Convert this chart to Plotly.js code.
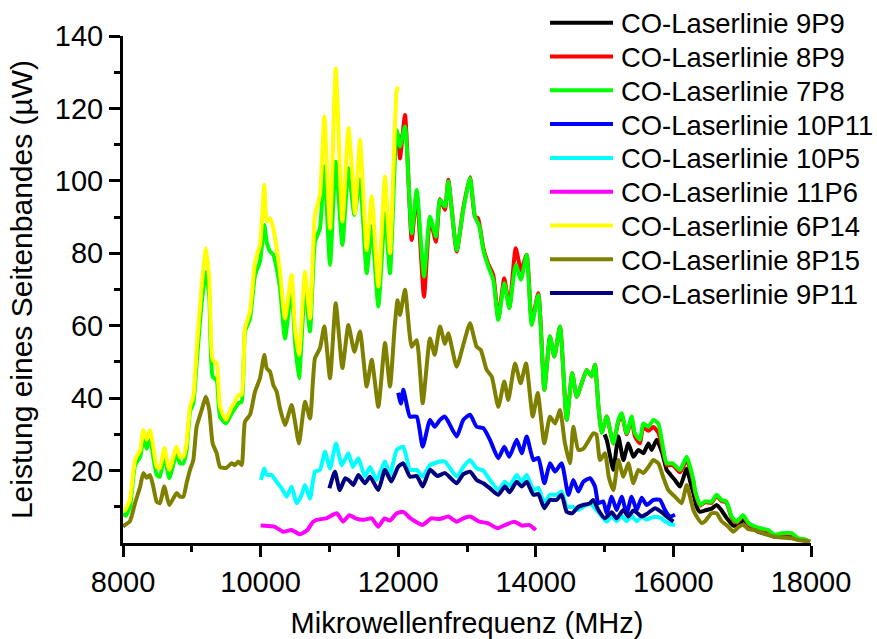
<!DOCTYPE html>
<html>
<head>
<meta charset="utf-8">
<script src="https://cdn.plot.ly/plotly-3.0.1.min.js"></script>
<style>
  html, body { margin: 0; padding: 0; background: #ffffff; }
  #chart { width: 877px; height: 639px; }
</style>
</head>
<body>
<div id="chart"></div>
<script>
// Sideband power vs. microwave frequency for several CO laser lines

// CO-Laserlinie 9P9 (black)
const f9P9 = [15000, 15031, 15080, 15127, 15200, 15273, 15345, 15418, 15490, 15564, 15636, 15685, 15756, 15838, 15902, 15960, 16023, 16096, 16193, 16250, 16290, 16338, 16387, 16460, 16555, 16628, 16701, 16770, 16870, 16950, 17015, 17090, 17185, 17280, 17379, 17475, 17570, 17719, 17815, 17912, 17985];
const p9P9 = [30, 28.5, 24, 20.2, 29.4, 22.9, 27.5, 23.8, 25.7, 24.8, 27.5, 25.7, 28.5, 24.8, 20.2, 18.8, 17.4, 15.6, 20.5, 16.5, 13.8, 10, 8.6, 9, 9.5, 10.5, 9, 7, 4.8, 5, 6.4, 5, 3.6, 2.8, 2.4, 1.7, 1.7, 1.5, 1, 0.7, 0.3];

// CO-Laserlinie 8P9 (red)
const f8P9 = [12000, 12026, 12099, 12196, 12269, 12375, 12462, 12549, 12607, 12680, 12728, 12850, 12946, 13044, 13116, 13160, 13237, 13310, 13382, 13455, 13542, 13615, 13708, 13785, 13868, 13941, 14037, 14124, 14206, 14269, 14352, 14449, 14530, 14594, 14667, 14740, 14812, 14860, 14909, 14958, 15031, 15078, 15127, 15200, 15248, 15320, 15393, 15440, 15515, 15560, 15636, 15709, 15781, 15830, 15902, 15990, 16096, 16193, 16290, 16314, 16387, 16460, 16555, 16628, 16701, 16770, 16846, 16920, 17015, 17090, 17185, 17280, 17379, 17475, 17570, 17719, 17815, 17912, 17985];
const p8P9 = [113, 106.2, 118.2, 83.7, 96.5, 68, 89.5, 83.2, 95, 92, 100.3, 80.5, 92.5, 101, 90.1, 89.7, 81.5, 77, 74, 62, 73.1, 65, 81.4, 75.4, 79.6, 61, 69, 42.3, 57, 51.5, 59.8, 34, 46.9, 40.4, 44.1, 47.8, 46, 49.2, 38, 30.5, 34.9, 31.2, 27.5, 33.5, 35.5, 30, 34, 29.5, 27.5, 32, 31, 32, 30.5, 27, 21.5, 21.5, 19.5, 23, 17, 14, 10.3, 11.3, 11.1, 13, 11.6, 11.2, 7, 5.6, 7.4, 5.2, 4.2, 3.7, 3.3, 2, 2.5, 2.5, 1.1, 0.8, 0.3];

// CO-Laserlinie 7P8 (green)
const f7P8 = [8000, 8040, 8100, 8175, 8250, 8295, 8345, 8392, 8440, 8490, 8537, 8600, 8673, 8780, 8828, 8877, 8925, 8974, 9022, 9070, 9143, 9206, 9254, 9303, 9361, 9410, 9497, 9580, 9628, 9676, 9725, 9773, 9846, 9919, 9991, 10054, 10088, 10137, 10185, 10233, 10282, 10355, 10451, 10500, 10558, 10645, 10718, 10790, 10863, 10926, 11009, 11092, 11189, 11276, 11363, 11445, 11542, 11615, 11711, 11808, 11881, 11978, 12026, 12099, 12196, 12269, 12375, 12462, 12549, 12607, 12680, 12728, 12850, 12946, 13044, 13116, 13180, 13237, 13310, 13382, 13455, 13542, 13615, 13708, 13785, 13868, 13941, 14037, 14124, 14206, 14269, 14352, 14449, 14530, 14594, 14667, 14740, 14812, 14860, 14909, 14958, 15031, 15078, 15127, 15200, 15248, 15320, 15393, 15440, 15515, 15560, 15636, 15709, 15781, 15830, 15902, 15990, 16096, 16193, 16290, 16314, 16387, 16460, 16555, 16628, 16701, 16770, 16846, 16920, 17015, 17090, 17185, 17280, 17379, 17475, 17570, 17719, 17815, 17912, 17985];
const p7P8 = [8.2, 7.5, 10, 21.5, 23.8, 29, 26, 29.4, 23.8, 18.8, 18.3, 24.3, 17.9, 24.8, 22, 22, 25.7, 36.3, 38.6, 49.6, 66.2, 74.9, 68, 45.9, 45, 34.9, 33, 35.8, 37.2, 38.6, 39, 58.4, 62, 74, 77.7, 87.8, 83.2, 80.5, 79.6, 75.9, 70.4, 56.5, 70.4, 55.6, 45.5, 70.4, 58.4, 83.2, 86.9, 104, 76.8, 105.3, 82.3, 103.5, 90.6, 100.3, 74.5, 87.4, 65.3, 91, 74.5, 114, 109.5, 115, 85.5, 97.5, 73.6, 90.1, 84.6, 94.8, 92.9, 99.8, 80.9, 92, 100.7, 90.1, 87.4, 80.9, 76.3, 72.7, 61.6, 71.7, 64.8, 76.8, 72.7, 79.6, 60.2, 68.5, 42.3, 57, 51.5, 59.8, 34, 46.9, 40.4, 44.1, 47.8, 46, 49.2, 38, 30.5, 34.9, 31.2, 27.5, 34, 35.8, 30.3, 34.9, 30.3, 28.5, 33, 32.1, 34, 33, 28.5, 22, 22, 20.2, 23.8, 17.4, 14.6, 10.5, 11.5, 11.4, 13.3, 11.9, 11.5, 7.3, 5.9, 7.7, 5.5, 4.5, 4, 3.6, 2.2, 2.7, 2.7, 1.3, 1, 0.4];

// CO-Laserlinie 10P11 (blue)
const f10P11 = [12000, 12040, 12074, 12110, 12171, 12269, 12356, 12462, 12530, 12607, 12680, 12728, 12850, 12946, 13044, 13140, 13237, 13334, 13455, 13542, 13615, 13722, 13795, 13868, 13965, 14037, 14124, 14206, 14280, 14376, 14473, 14545, 14618, 14690, 14788, 14860, 14909, 14980, 15031, 15103, 15175, 15248, 15320, 15393, 15466, 15539, 15612, 15709, 15805, 15878, 15951, 16023];
const p10P11 = [41.5, 38.5, 42.3, 39.5, 34.9, 34.9, 26.6, 34, 32.1, 34, 34.9, 33.5, 29.4, 34, 35.4, 32.1, 31.7, 28.5, 23.4, 26.6, 23.8, 28.5, 24.8, 29.4, 22.9, 23.5, 16.5, 22, 19.7, 22, 13.3, 17.4, 14.2, 16.9, 17.9, 15.6, 11, 11.5, 8.2, 12.8, 9.1, 12.8, 8.2, 12.8, 9.1, 12.5, 10.5, 11.9, 11.9, 9.1, 7.3, 7.8];

// CO-Laserlinie 10P5 (cyan)
const f10P5 = [10006, 10054, 10088, 10160, 10233, 10306, 10379, 10451, 10524, 10597, 10645, 10718, 10790, 10863, 10936, 11009, 11096, 11180, 11276, 11340, 11421, 11517, 11590, 11687, 11808, 11881, 11978, 12074, 12171, 12269, 12356, 12462, 12607, 12680, 12850, 12946, 13044, 13140, 13237, 13334, 13455, 13550, 13620, 13722, 13795, 13868, 13965, 14037, 14124, 14206, 14300, 14376, 14449, 14530, 14618, 14690, 14788, 14909, 15031, 15103, 15175, 15248, 15320, 15393, 15466, 15539, 15612, 15709, 15805, 15878, 15951, 16023];
const p10P5 = [17.4, 20.6, 18.8, 18.8, 16.9, 15.1, 12.8, 15.6, 11, 13.3, 16, 12.3, 19.7, 20.2, 25.2, 20.6, 27.5, 21.5, 24.8, 21, 23.4, 18.3, 21, 17.4, 22.5, 18.8, 25.7, 26.6, 20.2, 20.2, 18.3, 21.5, 22.5, 22.5, 18.3, 21, 22.9, 20.6, 20, 17.4, 14.6, 16.9, 15.8, 18.8, 16.9, 18.8, 14.6, 15.2, 11, 13.3, 13.3, 14.2, 10, 10, 9.1, 10, 10.8, 8.5, 5.9, 7.5, 6, 7.5, 6, 7.5, 6, 7.2, 6.5, 7.2, 7, 6, 5.2, 5];

// CO-Laserlinie 11P6 (magenta)
const f11P6 = [10000, 10100, 10200, 10330, 10450, 10570, 10680, 10760, 10815, 10950, 11107, 11200, 11290, 11380, 11500, 11615, 11711, 11800, 11880, 11978, 12074, 12180, 12356, 12480, 12600, 12728, 12850, 12946, 13044, 13180, 13300, 13440, 13560, 13690, 13800, 13900, 14000];
const p11P6 = [4.8, 4.7, 4.5, 3.1, 3.6, 2.4, 3.6, 5.8, 6.4, 6.8, 8.2, 5.9, 7.7, 6.8, 6.4, 6.8, 4.5, 6.8, 6.2, 8.2, 8.6, 6.8, 5, 6.8, 6.6, 7.3, 5.9, 6.8, 7.3, 5.9, 5.5, 4.1, 5, 5.9, 4.8, 5, 3.6];

// CO-Laserlinie 6P14 (yellow)
const f6P14 = [8000, 8030, 8100, 8175, 8250, 8295, 8345, 8392, 8440, 8490, 8537, 8600, 8673, 8780, 8828, 8877, 8925, 8974, 9022, 9070, 9143, 9206, 9254, 9303, 9361, 9410, 9497, 9580, 9628, 9676, 9725, 9773, 9846, 9919, 9991, 10054, 10088, 10137, 10185, 10233, 10282, 10355, 10451, 10500, 10558, 10645, 10718, 10790, 10863, 10926, 11009, 11092, 11189, 11276, 11340, 11372, 11445, 11542, 11615, 11711, 11808, 11881, 11978, 12000];
const p6P14 = [9.1, 9.1, 11.9, 22.9, 25.7, 31.2, 28.5, 31.2, 26.6, 21, 20.7, 26.2, 20.2, 26.6, 23.8, 23.8, 27.5, 37.6, 40.4, 53.3, 70.8, 81.4, 72.7, 50.6, 49.6, 37.6, 34, 37.6, 39, 40.9, 40.9, 59.3, 63.9, 77.7, 82.3, 98.9, 88.8, 89.7, 86.9, 81.4, 74.9, 62, 74, 59.3, 51.9, 74.9, 62, 90.6, 96.1, 117.8, 86.9, 131, 88.8, 114.6, 100, 91, 111.3, 80.9, 95.7, 70.8, 101.2, 80, 125, 126];

// CO-Laserlinie 8P15 (olive)
const f8P15 = [8000, 8030, 8100, 8175, 8250, 8295, 8345, 8392, 8440, 8490, 8537, 8600, 8673, 8780, 8828, 8877, 8925, 8974, 9022, 9070, 9143, 9206, 9254, 9303, 9361, 9410, 9497, 9580, 9628, 9676, 9725, 9773, 9846, 9919, 9991, 10054, 10088, 10137, 10185, 10233, 10282, 10355, 10451, 10500, 10558, 10645, 10718, 10790, 10863, 10926, 11009, 11092, 11189, 11276, 11363, 11445, 11542, 11615, 11711, 11808, 11881, 11950, 11990, 12026, 12099, 12196, 12269, 12356, 12462, 12530, 12607, 12680, 12728, 12850, 12950, 13044, 13140, 13200, 13286, 13360, 13455, 13542, 13600, 13698, 13780, 13858, 13956, 14028, 14124, 14206, 14280, 14352, 14424, 14497, 14545, 14618, 14690, 14760, 14836, 14880, 14933, 15006, 15060, 15127, 15200, 15273, 15345, 15418, 15490, 15564, 15636, 15709, 15781, 15850, 15926, 16023, 16120, 16193, 16290, 16338, 16410, 16460, 16555, 16628, 16701, 16798, 16870, 16950, 17015, 17090, 17185, 17280, 17379, 17475, 17570, 17719, 17815, 17912, 17985];
const p8P15 = [4.5, 5, 6, 11, 15.6, 19.3, 18, 18.8, 15.6, 11.4, 11, 15.6, 10.5, 13.8, 12.8, 12.8, 16.6, 20.2, 22.9, 32.1, 36.7, 40.4, 36.7, 27.5, 24.8, 21, 20.7, 22, 21.5, 22.5, 21.5, 33.5, 35.4, 41.8, 45.5, 51.9, 48.3, 47.3, 43.6, 41.8, 37.2, 32.6, 38.1, 33.5, 27.5, 39, 34.4, 51, 53.8, 59.8, 45.5, 66.2, 48.3, 60.2, 52.8, 58.4, 43.2, 50.6, 37.6, 55.2, 43.2, 60, 67, 63, 69.9, 54.2, 56, 38.6, 56.5, 52, 59.8, 55, 57.9, 48.7, 55, 60.7, 54.2, 53.3, 47.8, 45.9, 37.6, 44.6, 39.5, 49.6, 44.1, 49.6, 34.9, 41.4, 27.5, 34.9, 33, 36.7, 27.5, 22, 32.1, 25.7, 26, 28, 30.3, 30, 22.9, 24.8, 18.3, 14.6, 22.9, 18.3, 22, 16.5, 20.2, 19.3, 21, 22.9, 22, 18.3, 14.6, 12.8, 11, 16, 9.1, 7.3, 5.5, 6, 8.2, 8.2, 6, 4.5, 3.1, 4.5, 5, 3.8, 3.6, 2.8, 2.2, 1.7, 1.5, 1.3, 0.8, 0.6, 0.3];

// CO-Laserlinie 9P11 (navy)
const f9P11 = [11000, 11081, 11150, 11230, 11300, 11348, 11421, 11517, 11590, 11711, 11808, 11900, 11998, 12074, 12171, 12269, 12356, 12462, 12570, 12680, 12850, 12946, 13044, 13140, 13237, 13334, 13455, 13550, 13620, 13722, 13795, 13868, 13965, 14037, 14124, 14206, 14300, 14376, 14449, 14530, 14618, 14690, 14788, 14836, 14909, 15006, 15103, 15175, 15273, 15345, 15418, 15539, 15612, 15733, 15830, 15902, 16000];
const p9P11 = [15.1, 19.7, 14.6, 17.9, 17, 16, 18.8, 16.5, 18.3, 14.6, 20.2, 17, 21, 22, 18.3, 18.5, 15.6, 20.2, 18.5, 19.3, 16.5, 19, 19.7, 17.4, 16.5, 15.1, 13.3, 15.6, 14, 16.9, 15.6, 16.9, 13.3, 13.5, 9.6, 11.9, 11.9, 13.3, 8.6, 8.2, 10, 10.5, 11, 11.9, 9.1, 6.8, 8.5, 6.8, 9.1, 7.3, 9, 7.3, 8, 9.6, 8.5, 7.3, 5.9];

const seriesNames = ['CO-Laserlinie 9P9', 'CO-Laserlinie 8P9', 'CO-Laserlinie 7P8', 'CO-Laserlinie 10P11',
  'CO-Laserlinie 10P5', 'CO-Laserlinie 11P6', 'CO-Laserlinie 6P14', 'CO-Laserlinie 8P15', 'CO-Laserlinie 9P11'];
const seriesColors = ['#000000', '#ff0000', '#00ff00', '#0000ff', '#00ffff', '#ff00ff', '#ffff00', '#808000', '#000080'];
const seriesX = [f9P9, f8P9, f7P8, f10P11, f10P5, f11P6, f6P14, f8P15, f9P11];
const seriesY = [p9P9, p8P9, p7P8, p10P11, p10P5, p11P6, p6P14, p8P15, p9P11];

const FONT = 'Liberation Sans, Arial, Helvetica, sans-serif';

// plot area in pixels (used to place the key in paper coordinates)
const W = 877, H = 639;
const M = { l: 123, r: 66, t: 36, b: 96 };
const plotW = W - M.l - M.r, plotH = H - M.t - M.b;
const px2paperX = px => (px - M.l) / plotW;
const px2paperY = py => (H - M.b - py) / plotH;

const traces = seriesNames.map((name, i) => ({
  type: 'scatter',
  mode: 'lines',
  name: name,
  x: seriesX[i],
  y: seriesY[i],
  showlegend: false,
  line: { color: seriesColors[i], width: 4, shape: 'spline', smoothing: 0.5 },
  hoverinfo: 'x+y+name'
}));

// key: a short colored line and a label per series, stacked in the top right corner
const keyTop = 22.7, keyStep = 33.8;
const keyShapes = seriesNames.map((name, i) => ({
  type: 'line', xref: 'paper', yref: 'paper',
  x0: px2paperX(550), x1: px2paperX(613),
  y0: px2paperY(keyTop + i * keyStep), y1: px2paperY(keyTop + i * keyStep),
  line: { color: seriesColors[i], width: 4 }
}));
const keyLabels = seriesNames.map((name, i) => ({
  xref: 'paper', yref: 'paper',
  x: px2paperX(619), y: px2paperY(keyTop + i * keyStep + 1),
  xanchor: 'left', yanchor: 'middle',
  text: name, showarrow: false,
  font: { family: FONT, size: 27.4, color: '#000000' }
}));

const layout = {
  width: W,
  height: H,
  margin: { l: M.l, r: M.r, t: M.t, b: M.b, pad: 0 },
  paper_bgcolor: '#ffffff',
  plot_bgcolor: '#ffffff',
  font: { family: FONT, color: '#000000', size: 25 },
  showlegend: false,
  shapes: keyShapes,
  annotations: keyLabels,
  xaxis: {
    range: [8000, 18000],
    tickvals: [8000, 10000, 12000, 14000, 16000, 18000],
    ticktext: ['8000', '10000', '12000', '14000', '16000', '18000'],
    ticks: 'outside', ticklen: 11, tickwidth: 3, tickcolor: '#000000',
    minor: { tickvals: [9000, 11000, 13000, 15000, 17000], ticks: 'outside', ticklen: 6, tickwidth: 3, tickcolor: '#000000' },
    showline: true, linewidth: 3, linecolor: '#000000',
    showgrid: false, zeroline: false,
    tickfont: { family: FONT, size: 29, color: '#000000' },
    title: { text: 'Mikrowellenfrequenz (MHz)', font: { family: FONT, size: 29, color: '#000000' }, standoff: 17 }
  },
  yaxis: {
    range: [0, 140],
    tickvals: [20, 40, 60, 80, 100, 120, 140],
    ticktext: ['20', '40', '60', '80', '100', '120', '140'],
    ticks: 'outside', ticklen: 11, tickwidth: 3, tickcolor: '#000000',
    minor: { tickvals: [10, 30, 50, 70, 90, 110, 130], ticks: 'outside', ticklen: 6, tickwidth: 3, tickcolor: '#000000' },
    showline: true, linewidth: 3, linecolor: '#000000',
    showgrid: false, zeroline: false,
    tickfont: { family: FONT, size: 29, color: '#000000' },
    title: { text: 'Leistung eines Seitenbandes (µW)', font: { family: FONT, size: 30, color: '#000000' }, standoff: 14 }
  }
};

Plotly.newPlot('chart', traces, layout, { displayModeBar: false, staticPlot: true });
</script>
</body>
</html>
